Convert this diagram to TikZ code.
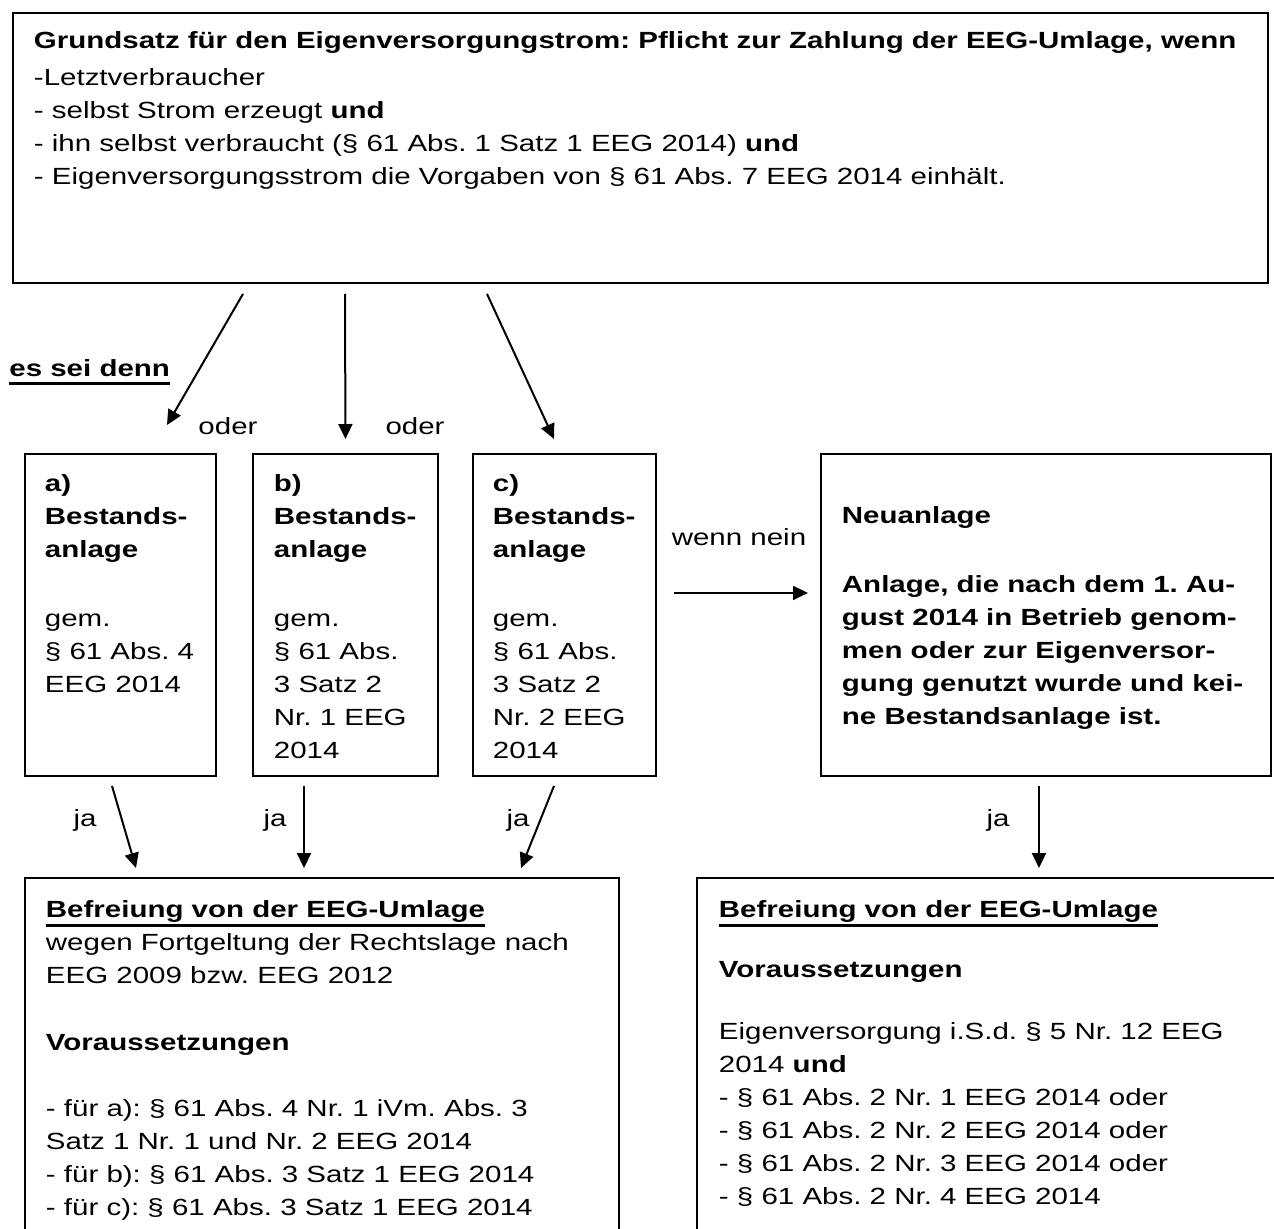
\documentclass[tikz,border=0pt]{standalone}
\usepackage{fontspec}
\setmainfont{Liberation Sans}[FakeStretch=1.26]
\usepackage{tikz}
\usetikzlibrary{arrows.meta, calc}
\frenchspacing
\tikzstyle{kasten} = [draw, line width=0.95pt, anchor=north west, inner ysep=7.45pt]
\tikzstyle{pfeil} = [line width=1pt, -{Triangle[length=7.5pt,width=7pt]}]
\tikzstyle{beschr} = [inner sep=0pt, anchor=base]
\newcommand{\inhalt}[3]{\begin{minipage}[t][#2][t]{#1}\raggedright\strut#3\end{minipage}}
\newcommand{\strich}[1]{\setbox0\hbox{#1}\rlap{\rule[-4.4pt]{\wd0}{1.2pt}}\box0}

\begin{document}
\begin{tikzpicture}[x=0.5pt, y=-0.5pt, font=\fontsize{11.7pt}{16.5pt}\selectfont]
\useasboundingbox (0,0) rectangle (1274,1228);
\clip (0,0) rectangle (1274,1228);

% Grundsatz
\node[kasten, inner xsep=10.5pt, inner ysep=6.45pt] (grundsatz) at (12,12) {\inhalt{606.5pt}{122.1pt}{%
  \textbf{Grundsatz für den Eigenversorgungstrom: Pflicht zur Zahlung der EEG-Umlage, wenn}\\[2pt]
  -Letztverbraucher\\
  - selbst Strom erzeugt \textbf{und}\\
  - ihn selbst verbraucht (§ 61 Abs. 1 Satz 1 EEG 2014) \textbf{und}\\
  - Eigenversorgungsstrom die Vorgaben von § 61 Abs. 7 EEG 2014 einhält.}};

% Bestandsanlagen und Neuanlage
\node[kasten, inner xsep=10pt] (a) at (24,453) {\inhalt{75.5pt}{146.1pt}{%
  {\bfseries a)\\Bestands-\\anlage}\\[18pt]gem.\\§ 61 Abs. 4\\EEG 2014}};
\node[kasten, inner xsep=10.5pt] (b) at (252,453) {\inhalt{71.5pt}{146.1pt}{%
  {\bfseries b)\\Bestands-\\anlage}\\[18pt]gem.\\§ 61 Abs.\\3 Satz 2\\Nr. 1 EEG\\2014}};
\node[kasten, inner xsep=10pt] (c) at (472,453) {\inhalt{71.5pt}{146.1pt}{%
  {\bfseries c)\\Bestands-\\anlage}\\[18pt]gem.\\§ 61 Abs.\\3 Satz 2\\Nr. 2 EEG\\2014}};
\node[kasten, inner xsep=10.5pt, inner ysep=23.45pt] (neu) at (820,453) {\inhalt{204pt}{114.1pt}{%
  {\bfseries Neuanlage\\[18pt]Anlage, die nach dem 1. Au-\\gust 2014 in Betrieb genom-\\men oder zur Eigenversor-\\gung genutzt wurde und kei-\\ne Bestandsanlage ist.}}};

% Befreiung
\node[kasten, inner xsep=10.5pt, inner ysep=8.45pt] (befreiung1) at (24,877) {\inhalt{276pt}{169.6pt}{%
  \strich{\textbf{Befreiung von der EEG-Umlage}}\\
  wegen Fortgeltung der Rechtslage nach\\
  EEG 2009 bzw. EEG 2012\\[17pt]
  \textbf{Voraussetzungen}\\[16.5pt]
  - für a): § 61 Abs. 4 Nr. 1 iVm. Abs. 3\\
  Satz 1 Nr. 1 und Nr. 2 EEG 2014\\
  - für b): § 61 Abs. 3 Satz 1 EEG 2014\\
  - für c): § 61 Abs. 3 Satz 1 EEG 2014}};
\node[kasten, inner xsep=11pt, inner ysep=8.45pt] (befreiung2) at (696,877) {\inhalt{275pt}{169.6pt}{%
  \strich{\textbf{Befreiung von der EEG-Umlage}}\\[13.5pt]
  \textbf{Voraussetzungen}\\[14.5pt]
  Eigenversorgung i.S.d. § 5 Nr. 12 EEG\\
  2014 \textbf{und}\\
  - § 61 Abs. 2 Nr. 1 EEG 2014 oder\\
  - § 61 Abs. 2 Nr. 2 EEG 2014 oder\\
  - § 61 Abs. 2 Nr. 3 EEG 2014 oder\\
  - § 61 Abs. 2 Nr. 4 EEG 2014}};

% Beschriftungen
\node[beschr, anchor=base west] (esseidenn) at (9,376) {\strich{\textbf{es sei denn}}};
\node[beschr] (oder1) at (228,434) {oder};
\node[beschr] (oder2) at (415,434) {oder};
\node[beschr] (wennnein) at (739,545) {wenn nein};
\node[beschr] (ja1) at (85,826) {ja};
\node[beschr] (ja2) at (275,826) {ja};
\node[beschr] (ja3) at (518,826) {ja};
\node[beschr] (ja4) at (998,826) {ja};

% Pfeile
\draw[pfeil] ($(grundsatz.south west)+(231,10)$) -- ($(a.north west)+(143,-28)$);
\draw[pfeil] ($(grundsatz.south west)+(333,10)$) -- ($(b.north)+(0,-14)$);
\draw[pfeil] ($(grundsatz.south west)+(475,10)$) -- ($(c.north west)+(82,-14)$);
\draw[pfeil] ($(a.south west)+(88,9)$) -- ($(befreiung1.north west)+(112,-9)$);
\draw[pfeil] ($(b.south west)+(52,9)$) -- ($(befreiung1.north west)+(280,-9)$);
\draw[pfeil] ($(c.south west)+(82,9)$) -- ($(befreiung1.north west)+(497,-9)$);
\draw[pfeil] ($(neu.south west)+(219,9)$) -- ($(befreiung2.north west)+(343,-9)$);
\draw[pfeil] ($(c.east)+(17,-22)$) -- ($(neu.west)+(-12,-22)$);
\end{tikzpicture}
\end{document}
